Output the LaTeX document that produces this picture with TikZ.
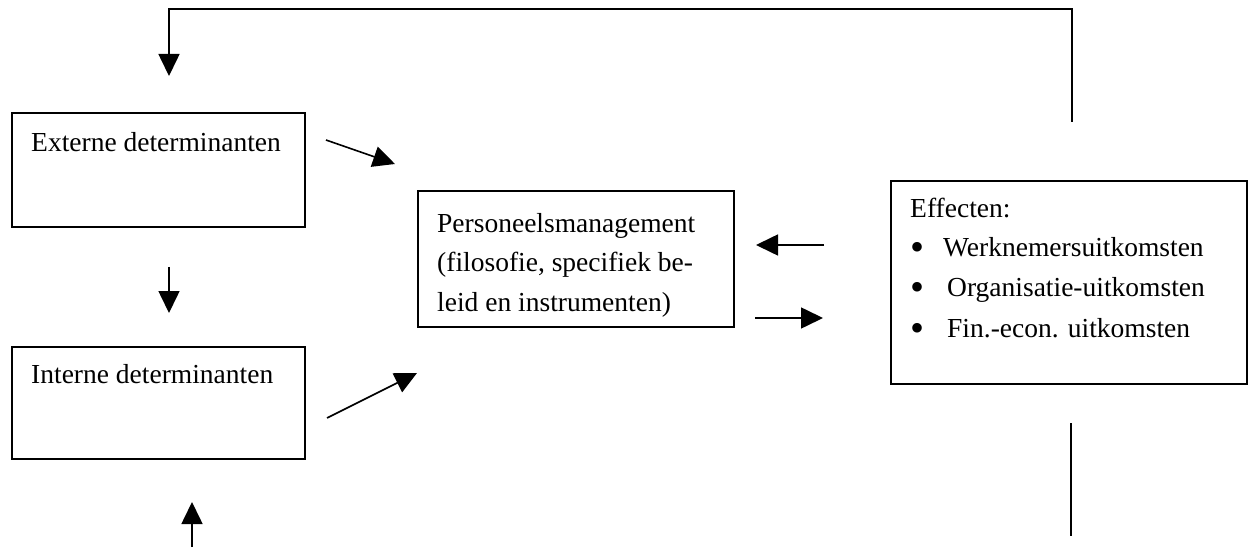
\documentclass[tikz,border=0pt]{standalone}
\usepackage{fontspec}
\setmainfont{Liberation Serif}
\usetikzlibrary{arrows.meta}
\begin{document}
\begin{tikzpicture}[x=1pt,y=-1pt,
  box/.style={draw,line width=1.6pt,inner sep=0pt,anchor=north west},
  txt/.style={anchor=base west,inner sep=0pt,font=\fontsize{27.5}{39}\selectfont},
  dot/.style={anchor=base,inner sep=0pt,font=\fontsize{40}{39}\selectfont},
  link/.style={line width=1.6pt,-{Triangle[length=22pt,width=21pt]}},
  plain/.style={line width=1.6pt}]
\useasboundingbox (0,0) rectangle (1248,548);

% boxes
\node[box,minimum width=293pt,minimum height=114pt] (ext) at (11,112) {};
\node[box,minimum width=293pt,minimum height=112pt] (int) at (11,346) {};
\node[box,minimum width=316pt,minimum height=136pt] (pm) at (417,190) {};
\node[box,minimum width=356pt,minimum height=203pt] (eff) at (890,180) {};

% box texts
\node[txt] (extT) at (31,152) {Externe determinanten};
\node[txt] (intT) at (31,383) {Interne determinanten};
\node[txt] (pm1) at (437,233) {Personeelsmanagement};
\node[txt] (pm2) at (437,272) {(filosofie, specifiek be-};
\node[txt] (pm3) at (437,311) {leid en instrumenten)};
\node[txt] (effT) at (910,218) {Effecten:};
\node[dot] (b1) at (917,261) {•};
\node[txt] (e1) at (943,257) {Werknemersuitkomsten};
\node[dot] (b2) at (917,301) {•};
\node[txt] (e2) at (947,297) {Organisatie-uitkomsten};
\node[dot] (b3) at (917,341) {•};
\node[txt] (e3) at (947,337) {Fin.-econ. uitkomsten};

% connector end points
\coordinate (fbA) at (1072,122);
\coordinate (fbB) at (1072,9);
\coordinate (fbC) at (169,9);
\coordinate (fbD) at (169,76);
\coordinate (eaS) at (326,140);
\coordinate (eaE) at (395,164);
\coordinate (iaS) at (327,418);
\coordinate (iaE) at (417,373);
\coordinate (dnS) at (169,267);
\coordinate (dnE) at (169,313);
\coordinate (upS) at (192,547);
\coordinate (upE) at (192,502);
\coordinate (lfS) at (824,245);
\coordinate (lfE) at (756,245);
\coordinate (rtS) at (755,318);
\coordinate (rtE) at (823,318);
\coordinate (brS) at (1071,423);
\coordinate (brE) at (1071,536);

% connectors
\draw[link] (fbA) -- (fbB) -- (fbC) -- (fbD);
\draw[link] (eaS) -- (eaE);
\draw[link] (iaS) -- (iaE);
\draw[link] (dnS) -- (dnE);
\draw[link] (upS) -- (upE);
\draw[link] (lfS) -- (lfE);
\draw[link] (rtS) -- (rtE);
\draw[plain] (brS) -- (brE);
\end{tikzpicture}
\end{document}
